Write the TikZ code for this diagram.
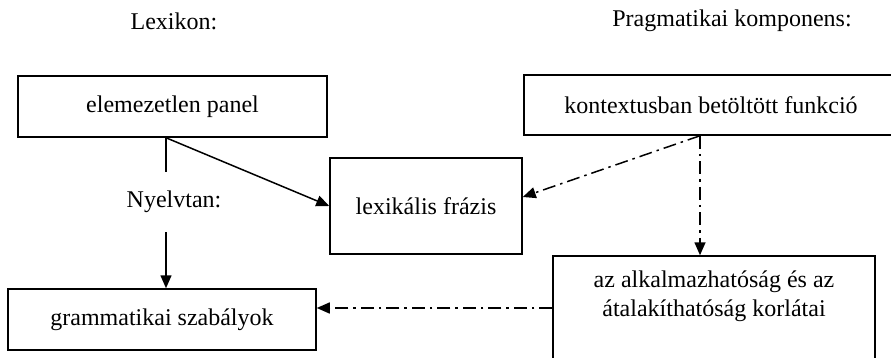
\documentclass[tikz,border=0pt]{standalone}
\usepackage{fontspec}
\setmainfont{Liberation Serif}
\usetikzlibrary{positioning,arrows.meta,calc}

\begin{document}
\begin{tikzpicture}[x=1pt,y=-1pt,>={Triangle[length=13pt,width=11pt]},
    every node/.style={font=\fontsize{24}{29}\selectfont},
    box/.style={draw,line width=1.5pt,minimum height=61pt,inner sep=0pt},
    solidline/.style={line width=1.5pt},
    dashdot/.style={line width=1.5pt,dash pattern=on 13pt off 5pt on 2.5pt off 5pt}]
            \useasboundingbox (0,0) rectangle (891,357);
            \clip (0,0) rectangle (891,357);
            \node (lexikon) at (174,21) {Lexikon:};
            \node (pragm) at (732,21) {Pragmatikai komponens:};
            \node[box,minimum width=309pt] (panel) at (172.5,106.5) {elemezetlen panel};
            \node[box,minimum width=192pt,minimum height=96pt] (lex) at (426,206) {lexikális frázis};
            \node[box,minimum width=308pt] (gram) at (162,319.5) {grammatikai szabályok};
            \node[box,minimum width=374pt,minimum height=60pt] (kontext) at (711,105) {kontextusban betöltött funkció};
            \node[box,minimum width=322pt,minimum height=112pt,align=center] (alk) at (714,312) {az alkalmazhatóság és az\\átalakíthatóság korlátai\\\strut};
            \node[minimum height=60pt,inner sep=0pt] (nyelv) at (174,202) {Nyelvtan:};
            % lexikon side
            \coordinate (split) at ([xshift=-6.5pt]panel.south);
            \draw[solidline] (split) -- (split |- nyelv.north);
            \draw[solidline,->] (split |- nyelv.south) -- (split |- gram.north);
            \draw[solidline,->] (split) -- (lex.west);
            % pragmatikai side
            \coordinate (fork) at ([xshift=-11pt]kontext.south);
            \draw[dashdot,->] (fork) -- ([yshift=9pt]lex.east);
            \draw[dashdot,->] (fork) -- (fork |- alk.north);
            \draw[dashdot,->] ([yshift=4pt]alk.west) -- ([yshift=4pt]alk.west -| gram.east);
\end{tikzpicture}
\end{document}
